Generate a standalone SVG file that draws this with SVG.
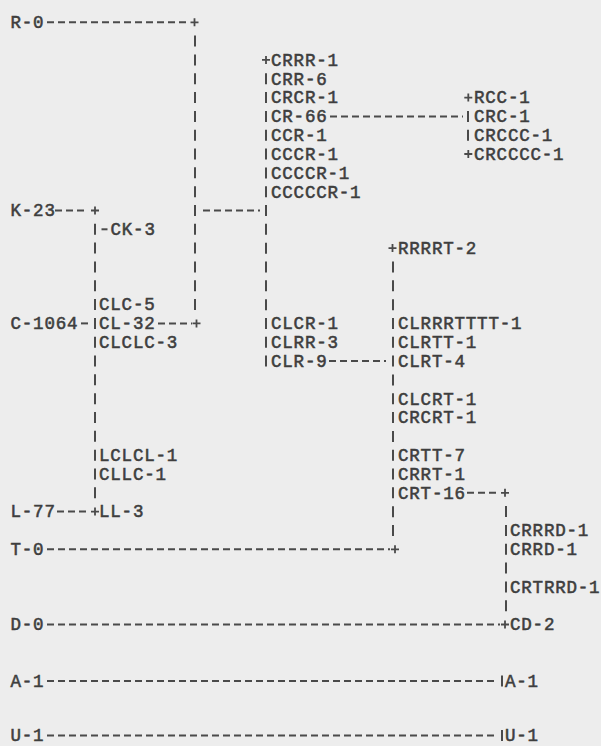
<svg xmlns="http://www.w3.org/2000/svg" xmlns:xlink="http://www.w3.org/1999/xlink" width="601" height="746" viewBox="0 0 601 746">
<style>
.t{font-family:"Liberation Mono","DejaVu Sans Mono",monospace;font-size:17.5px;letter-spacing:0.8px;fill:#3e3e3e;stroke:#3e3e3e;stroke-width:0.55px}
.h{stroke:#4a4a4a;stroke-width:2;stroke-dasharray:7 4;fill:none}
.v{stroke:#4a4a4a;stroke-width:2;stroke-dasharray:11 7.82;fill:none}
.p{stroke:#4a4a4a;stroke-width:1.8;fill:none}
</style>
<defs>
<path id="plus" d="M-4 0H4M0-4V4"/>
</defs>
<rect width="601" height="746" fill="#ededed"/>
<g id="connectors">
<line class="h" x1="47" y1="22.3" x2="190" y2="22.3"/>
<line class="h" x1="330" y1="116.4" x2="463" y2="116.4"/>
<line class="h" x1="55" y1="210.5" x2="88" y2="210.5"/>
<line class="h" x1="203" y1="210.5" x2="260" y2="210.5"/>
<line class="h" x1="101.5" y1="229.3" x2="107.5" y2="229.3"/>
<line class="h" x1="81" y1="323.4" x2="88" y2="323.4"/>
<line class="h" x1="158" y1="323.4" x2="192" y2="323.4"/>
<line class="h" x1="329" y1="361.1" x2="386" y2="361.1"/>
<line class="h" x1="467" y1="492.8" x2="500" y2="492.8"/>
<line class="h" x1="57" y1="511.6" x2="89" y2="511.6"/>
<line class="h" x1="47" y1="549.3" x2="390" y2="549.3"/>
<line class="h" x1="47" y1="624.5" x2="500" y2="624.5"/>
<line class="h" x1="47" y1="681" x2="497" y2="681"/>
<line class="h" x1="47" y1="735.5" x2="497" y2="735.5"/>
<line class="v" x1="195" y1="35.6" x2="195" y2="310.1"/>
<line class="v" x1="266" y1="73.3" x2="266" y2="366.6"/>
<line class="v" x1="95" y1="223.8" x2="95" y2="498.3"/>
<line class="v" x1="393" y1="261.5" x2="393" y2="535.9"/>
<line class="v" x1="468" y1="110.9" x2="468" y2="140.7"/>
<line class="v" x1="506" y1="506.1" x2="506" y2="611.2"/>
<line class="v" x1="502" y1="675.5" x2="502" y2="686.5"/>
<line class="v" x1="502" y1="730" x2="502" y2="741"/>
<use class="p" xlink:href="#plus" x="194.5" y="22.3"/>
<use class="p" xlink:href="#plus" x="196.5" y="323.4"/>
<use class="p" xlink:href="#plus" x="266" y="59.9"/>
<use class="p" xlink:href="#plus" x="95" y="210.5"/>
<use class="p" xlink:href="#plus" x="95" y="511.6"/>
<use class="p" xlink:href="#plus" x="392.5" y="248.1"/>
<use class="p" xlink:href="#plus" x="395" y="549.3"/>
<use class="p" xlink:href="#plus" x="468.3" y="97.6"/>
<use class="p" xlink:href="#plus" x="468.3" y="154"/>
<use class="p" xlink:href="#plus" x="505" y="492.8"/>
<use class="p" xlink:href="#plus" x="505" y="624.5"/>
</g>
<g id="node-R-0"><text class="t" x="10.5" y="28.1">R-0</text></g>
<g id="node-CRRR-1"><text class="t" x="271" y="65.7">CRRR-1</text></g>
<g id="node-CRR-6"><text class="t" x="271" y="84.6">CRR-6</text></g>
<g id="node-CRCR-1"><text class="t" x="271" y="103.4">CRCR-1</text></g>
<g id="node-CR-66"><text class="t" x="271" y="122.2">CR-66</text></g>
<g id="node-CCR-1"><text class="t" x="271" y="141">CCR-1</text></g>
<g id="node-CCCR-1"><text class="t" x="271" y="159.8">CCCR-1</text></g>
<g id="node-CCCCR-1"><text class="t" x="271" y="178.7">CCCCR-1</text></g>
<g id="node-CCCCCR-1"><text class="t" x="271" y="197.5">CCCCCR-1</text></g>
<g id="node-RCC-1"><text class="t" x="474" y="103.4">RCC-1</text></g>
<g id="node-CRC-1"><text class="t" x="474" y="122.2">CRC-1</text></g>
<g id="node-CRCCC-1"><text class="t" x="474" y="141">CRCCC-1</text></g>
<g id="node-CRCCCC-1"><text class="t" x="474" y="159.8">CRCCCC-1</text></g>
<g id="node-K-23"><text class="t" x="10.5" y="216.3">K-23</text></g>
<g id="node-CK-3"><text class="t" x="110.5" y="235.1">CK-3</text></g>
<g id="node-RRRRT-2"><text class="t" x="398" y="253.9">RRRRT-2</text></g>
<g id="node-CLC-5"><text class="t" x="99" y="310.4">CLC-5</text></g>
<g id="node-C-1064"><text class="t" x="10.5" y="329.2">C-1064</text></g>
<g id="node-CL-32"><text class="t" x="99" y="329.2">CL-32</text></g>
<g id="node-CLCLC-3"><text class="t" x="99" y="348">CLCLC-3</text></g>
<g id="node-CLCR-1"><text class="t" x="271" y="329.2">CLCR-1</text></g>
<g id="node-CLRR-3"><text class="t" x="271" y="348">CLRR-3</text></g>
<g id="node-CLR-9"><text class="t" x="271" y="366.9">CLR-9</text></g>
<g id="node-CLRRRTTTT-1"><text class="t" x="398" y="329.2">CLRRRTTTT-1</text></g>
<g id="node-CLRTT-1"><text class="t" x="398" y="348">CLRTT-1</text></g>
<g id="node-CLRT-4"><text class="t" x="398" y="366.9">CLRT-4</text></g>
<g id="node-CLCRT-1"><text class="t" x="398" y="404.5">CLCRT-1</text></g>
<g id="node-CRCRT-1"><text class="t" x="398" y="423.3">CRCRT-1</text></g>
<g id="node-LCLCL-1"><text class="t" x="99" y="461">LCLCL-1</text></g>
<g id="node-CLLC-1"><text class="t" x="99" y="479.8">CLLC-1</text></g>
<g id="node-CRTT-7"><text class="t" x="398" y="461">CRTT-7</text></g>
<g id="node-CRRT-1"><text class="t" x="398" y="479.8">CRRT-1</text></g>
<g id="node-CRT-16"><text class="t" x="398" y="498.6">CRT-16</text></g>
<g id="node-L-77"><text class="t" x="10.5" y="517.4">L-77</text></g>
<g id="node-LL-3"><text class="t" x="99" y="517.4">LL-3</text></g>
<g id="node-CRRRD-1"><text class="t" x="510" y="536.2">CRRRD-1</text></g>
<g id="node-T-0"><text class="t" x="10.5" y="555.1">T-0</text></g>
<g id="node-CRRD-1"><text class="t" x="510" y="555.1">CRRD-1</text></g>
<g id="node-CRTRRD-1"><text class="t" x="510" y="592.7">CRTRRD-1</text></g>
<g id="node-D-0"><text class="t" x="10.5" y="630.3">D-0</text></g>
<g id="node-CD-2"><text class="t" x="510" y="630.3">CD-2</text></g>
<g id="node-A-1-left"><text class="t" x="10.5" y="686.8">A-1</text></g>
<g id="node-A-1-right"><text class="t" x="505" y="686.8">A-1</text></g>
<g id="node-U-1-left"><text class="t" x="10.5" y="741.3">U-1</text></g>
<g id="node-U-1-right"><text class="t" x="505" y="741.3">U-1</text></g>
</svg>
